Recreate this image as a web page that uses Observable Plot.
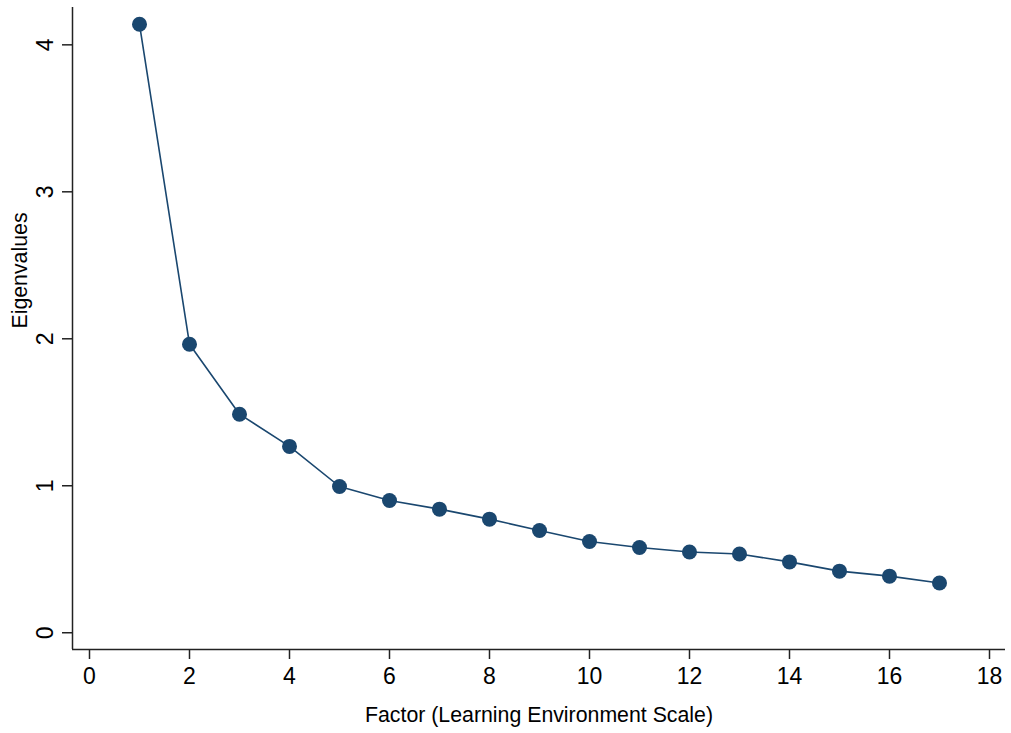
<!DOCTYPE html>
<html>
<head>
<meta charset="utf-8">
<script src="https://cdn.jsdelivr.net/npm/d3@7"></script>
<script src="https://cdn.jsdelivr.net/npm/@observablehq/plot@0.6"></script>
<style>
  html, body { margin: 0; padding: 0; background: #fff; }
  #chart svg { display: block; }
</style>
</head>
<body>
<div id="chart"></div>
<script>
const factors = [1, 2, 3, 4, 5, 6, 7, 8, 9, 10, 11, 12, 13, 14, 15, 16, 17];
const eigenvalues = [4.14, 1.963, 1.487, 1.268, 0.995, 0.90, 0.841, 0.773, 0.696, 0.621, 0.58, 0.549, 0.536, 0.482, 0.419, 0.385, 0.338];
const xTicks = [0, 2, 4, 6, 8, 10, 12, 14, 16, 18];
const yTicks = [0, 1, 2, 3, 4];
const xLabel = "Factor (Learning Environment Scale)";
const yLabel = "Eigenvalues";

const data = factors.map((f, i) => ({factor: f, value: eigenvalues[i]}));
const xDomain = [-0.34, 18.32];
const yDomain = [-0.114, 4.254];
const navy = "#1a476f";
const axisColor = "#222";

const chart = Plot.plot({
  width: 1011,
  height: 733,
  marginLeft: 72,
  marginRight: 6,
  marginTop: 7,
  marginBottom: 84,
  style: {fontFamily: "'Liberation Sans', Arial, Helvetica, sans-serif", background: "#fff"},
  x: {domain: xDomain, axis: null},
  y: {domain: yDomain, axis: null},
  marks: [
    Plot.axisX({ticks: xTicks, tickFormat: "d", tickSize: 10, tickPadding: 8, fontSize: 23, stroke: axisColor, strokeWidth: 1.5, color: "#000", label: null}),
    Plot.axisY({ticks: yTicks, tickFormat: "d", tickSize: 10, tickPadding: 10, fontSize: 23, stroke: axisColor, strokeWidth: 1.5, tickRotate: -90, textAnchor: "middle", lineAnchor: "bottom", label: null}),
    Plot.ruleX([xDomain[0]], {stroke: axisColor, strokeWidth: 1.5}),
    Plot.ruleY([yDomain[0]], {stroke: axisColor, strokeWidth: 1.5}),
    Plot.line(data, {x: "factor", y: "value", stroke: navy, strokeWidth: 1.6}),
    Plot.dot(data, {x: "factor", y: "value", fill: navy, r: 7.5, stroke: "none"}),
    Plot.text([xLabel], {frameAnchor: "bottom", dy: 72, fontSize: 21.3, fill: "#000", text: d => d}),
    Plot.text([yLabel], {frameAnchor: "left", dx: -52, rotate: -90, fontSize: 21.3, fill: "#000", text: d => d})
  ]
});
document.getElementById("chart").appendChild(chart);
</script>
</body>
</html>
